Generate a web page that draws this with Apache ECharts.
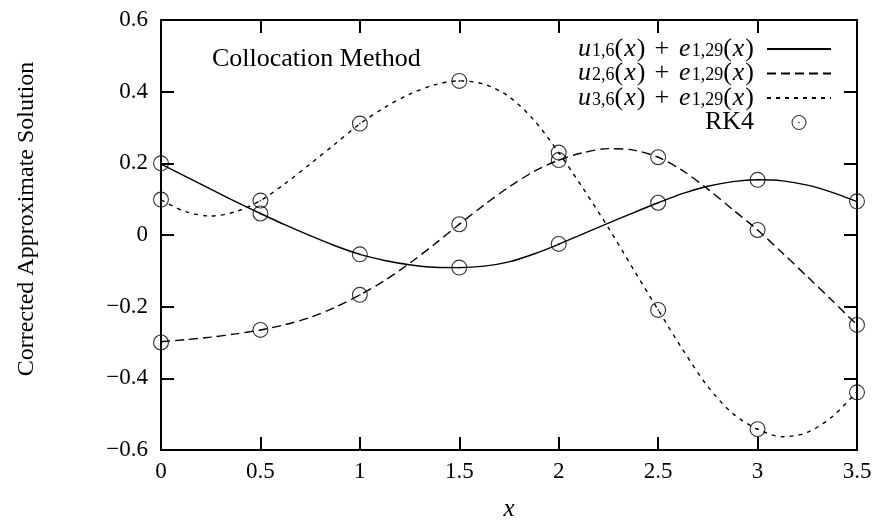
<!DOCTYPE html>
<html>
<head>
<meta charset="utf-8">
<script src="https://cdn.jsdelivr.net/npm/echarts@6/dist/echarts.min.js"></script>
<style>
html,body{margin:0;padding:0;background:#fff;}
#chart{width:877px;height:520px;}
</style>
</head>
<body>
<div id="chart"></div>
<script>
// x sample positions of the curves
const xs = [0, 0.125, 0.25, 0.375, 0.5, 0.625, 0.75, 0.875, 1, 1.125, 1.25, 1.375, 1.5, 1.625, 1.75, 1.875,
            2, 2.125, 2.25, 2.375, 2.5, 2.625, 2.75, 2.875, 3, 3.125, 3.25, 3.375, 3.5];
// u_{1,6}(x)+e_{1,29}(x)
const u1 = [0.198, 0.163, 0.128, 0.093, 0.060, 0.028, -0.002, -0.030, -0.054, -0.071, -0.083, -0.090, -0.091, -0.087, -0.075, -0.053,
            -0.026, 0.004, 0.033, 0.062, 0.090, 0.116, 0.136, 0.149, 0.154, 0.151, 0.139, 0.119, 0.093];
// u_{2,6}(x)+e_{1,29}(x)
const u2 = [-0.298, -0.292, -0.285, -0.276, -0.265, -0.250, -0.230, -0.202, -0.167, -0.127, -0.079, -0.026, 0.030, 0.084, 0.134, 0.177,
            0.209, 0.230, 0.241, 0.237, 0.217, 0.179, 0.128, 0.071, 0.014, -0.050, -0.116, -0.183, -0.251];
// u_{3,6}(x)+e_{1,29}(x)
const u3 = [0.098, 0.065, 0.053, 0.065, 0.096, 0.144, 0.198, 0.254, 0.310, 0.356, 0.393, 0.419, 0.430, 0.421, 0.386, 0.321,
            0.230, 0.128, 0.020, -0.095, -0.209, -0.321, -0.423, -0.498, -0.542, -0.563, -0.551, -0.507, -0.437];
// RK4 points
const rkX = [0, 0.5, 1, 1.5, 2, 2.5, 3, 3.5];
const rk1 = [0.200, 0.060, -0.054, -0.091, -0.025, 0.090, 0.154, 0.094];
const rk2 = [-0.300, -0.265, -0.167, 0.030, 0.209, 0.217, 0.014, -0.251];
const rk3 = [0.099, 0.096, 0.311, 0.430, 0.230, -0.209, -0.542, -0.439];
const xTicks = {min: 0, max: 3.5, interval: 0.5};
const yTicks = {min: -0.6, max: 0.6, interval: 0.2};

const FONT = 'Liberation Serif';
const pair = (x, y) => x.map((v, i) => [v, y[i]]);
const rkData = pair(rkX, rk1).concat(pair(rkX, rk2), pair(rkX, rk3));

const circleDot = 'path://M0,-10A10,10,0,1,1,0,10A10,10,0,1,1,0,-10ZM0,-8.6A8.6,8.6,0,1,0,0,8.6A8.6,8.6,0,1,0,0,-8.6ZM0,-1.1A1.1,1.1,0,1,1,0,1.1A1.1,1.1,0,1,1,0,-1.1Z';

const yFmt = v => Math.abs(v) < 1e-9 ? '0' : (v < 0 ? '\u2212' : '') + Math.abs(v).toFixed(1);
const axisLine = {show: true, onZero: false, lineStyle: {color: '#000', width: 2}};
const tick = {show: true, inside: true, length: 13, lineStyle: {color: '#000', width: 2}};
const labelStyle = {color: '#000', fontFamily: FONT, fontSize: 23};

const legendNames = {
  u1: '{i|u}{s|1,6}{r|(}{i|x}{r|)}{p|+}{i|e}{s|1,29}{r|(}{i|x}{r|)}',
  u2: '{i|u}{s|2,6}{r|(}{i|x}{r|)}{p|+}{i|e}{s|1,29}{r|(}{i|x}{r|)}',
  u3: '{i|u}{s|3,6}{r|(}{i|x}{r|)}{p|+}{i|e}{s|1,29}{r|(}{i|x}{r|)}',
  RK4: '{r|RK4}'
};

const chart = echarts.init(document.getElementById('chart'), null, {renderer: 'canvas'});
chart.setOption({
  animation: false,
  backgroundColor: '#fff',
  grid: {left: 161, right: 20, top: 20, bottom: 70, containLabel: false, outerBoundsMode: 'none'},
  xAxis: [
    {type: 'value', position: 'bottom', min: xTicks.min, max: xTicks.max, interval: xTicks.interval,
     axisLine: axisLine, axisTick: tick, splitLine: {show: false},
     axisLabel: Object.assign({margin: 10}, labelStyle),
     name: 'x', nameLocation: 'middle', nameGap: 47,
     nameTextStyle: {color: '#000', fontFamily: FONT, fontSize: 25, fontStyle: 'italic'}},
    {type: 'value', position: 'top', min: xTicks.min, max: xTicks.max, interval: xTicks.interval,
     axisLine: axisLine, axisTick: tick, splitLine: {show: false}, axisLabel: {show: false}}
  ],
  yAxis: [
    {type: 'value', position: 'left', min: yTicks.min, max: yTicks.max, interval: yTicks.interval,
     axisLine: axisLine, axisTick: tick, splitLine: {show: false},
     axisLabel: Object.assign({margin: 13, formatter: yFmt}, labelStyle),
     name: 'Corrected Approximate Solution', nameLocation: 'middle', nameGap: 122,
     nameTextStyle: {color: '#000', fontFamily: FONT, fontSize: 24, padding: [0, 0, 0, 32]}},
    {type: 'value', position: 'right', min: yTicks.min, max: yTicks.max, interval: yTicks.interval,
     axisLine: axisLine, axisTick: tick, splitLine: {show: false}, axisLabel: {show: false}}
  ],
  legend: {
    orient: 'vertical', align: 'right', right: 45, top: 36, padding: 0, itemGap: -1.5,
    itemWidth: 64, itemHeight: 15,
    data: [
      {name: 'u1', itemStyle: {opacity: 0}},
      {name: 'u2', itemStyle: {opacity: 0}},
      {name: 'u3', itemStyle: {opacity: 0}},
      {name: 'RK4'}
    ],
    formatter: n => legendNames[n],
    textStyle: {
      color: '#000', fontFamily: FONT, fontSize: 26, padding: [0, 8, 0, 0],
      rich: {
        i: {fontFamily: FONT, fontSize: 26, fontStyle: 'italic', lineHeight: 22, color: '#000', padding: [0, 1, 0, 1]},
        r: {fontFamily: FONT, fontSize: 26, lineHeight: 22, color: '#000'},
        p: {fontFamily: FONT, fontSize: 26, lineHeight: 22, color: '#000', padding: [0, 9, 0, 9]},
        s: {fontFamily: FONT, fontSize: 18, lineHeight: 11, verticalAlign: 'bottom', color: '#000'}
      }
    }
  },
  graphic: [{
    type: 'text', left: 212, top: 46,
    style: {text: 'Collocation Method', fontFamily: FONT, fontSize: 26, fill: '#000'}
  }],
  series: [
    {name: 'u1', type: 'line', data: pair(xs, u1), smooth: 0.3, symbol: 'none',
     lineStyle: {color: '#000', width: 1.4, type: 'solid'}, itemStyle: {color: '#000'}, z: 2},
    {name: 'u2', type: 'line', data: pair(xs, u2), smooth: 0.3, symbol: 'none',
     lineStyle: {color: '#000', width: 1.4, type: [9, 5]}, itemStyle: {color: '#000'}, z: 2},
    {name: 'u3', type: 'line', data: pair(xs, u3), smooth: 0.3, symbol: 'none',
     lineStyle: {color: '#000', width: 1.4, type: [4, 5]}, itemStyle: {color: '#000'}, z: 2},
    {name: 'RK4', type: 'scatter', data: rkData, symbol: circleDot, symbolSize: 16,
     itemStyle: {color: '#000'}, z: 3}
  ]
});
</script>
</body>
</html>
